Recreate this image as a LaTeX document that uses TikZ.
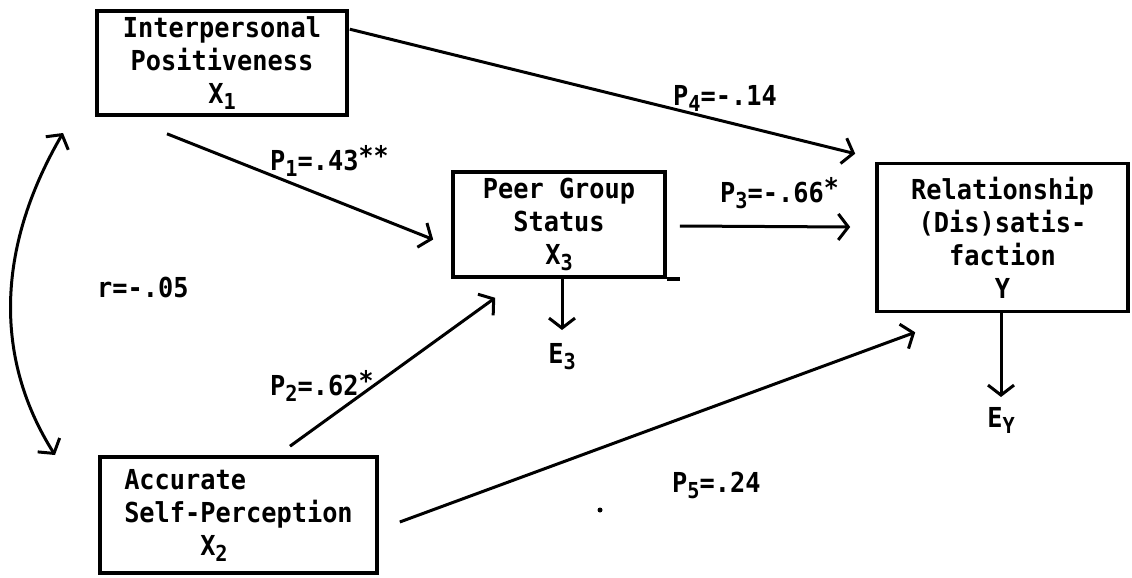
\documentclass[tikz,border=0pt]{standalone}
\usepackage{fontspec}
\setmonofont[FakeStretch=0.92]{DejaVu Sans Mono}
\usetikzlibrary{arrows.meta,calc}
% lowered index and raised significance stars in the running font
\newcommand{\lowsub}[1]{\raisebox{-6pt}{\fontsize{22}{22}\selectfont #1}}
\newcommand{\hisup}[1]{\raisebox{5pt}{\fontsize{27}{27}\selectfont #1}}

\begin{document}
\begin{tikzpicture}[x=1pt,y=-1pt,
  openbarb/.tip={Straight Barb[length=10pt,width=26pt]},
  every node/.style={font=\ttfamily\bfseries\fontsize{27.5}{33}\selectfont},
  var/.style={draw, line width=3.6pt, inner sep=0pt, align=center},
  lbl/.style={inner sep=0pt, anchor=base west},
  link/.style={line width=3pt, -{openbarb}},
]
\useasboundingbox (0,0) rectangle (1132,578);

% variables
\node[var, minimum width=250pt, minimum height=104pt] (x1) at (222,63)
  {Interpersonal\\Positiveness\\X\lowsub{1}};
\node[var, minimum width=212pt, minimum height=105pt] (x3) at (559,224.5)
  {Peer Group\\Status\\X\lowsub{3}};
\node[var, minimum width=251pt, minimum height=148pt] (y) at (1002.5,237.5)
  {Relationship\\(Dis)satis-\\faction\\Y};
\node[var, align=left, minimum width=277pt, minimum height=116pt] (x2) at (238.5,515)
  {Accurate\\Self-Perception\\\hspace*{76pt}X\lowsub{2}};
\draw[line width=3.6pt] (x3.south east) -- ++(13,0);

% path coefficients
\node[lbl] (p1) at (270,170) {P\lowsub{1}=.43\hisup{**}};
\node[lbl] (p2) at (270,395) {P\lowsub{2}=.62\hisup{*}};
\node[lbl] (p3) at (720,202) {P\lowsub{3}=-.66\hisup{*}};
\node[lbl] (p4) at (673,105) {P\lowsub{4}=-.14};
\node[lbl] (p5) at (672,492) {P\lowsub{5}=.24};
\node[lbl] (r) at (97,297) {r=-.05};

% residuals
\node[inner sep=0pt, anchor=base] (e3) at (562,363) {E\lowsub{3}};
\node[inner sep=0pt, anchor=base] (ey) at (1001,427) {E\lowsub{Y}};

% paths
\draw[link] ($(x1.south)+(-55,17)$) -- ($(x3.west)+(-18,15)$);
\draw[link] ($(x2.north)+(51.5,-9)$) -- ($(x3.south west)+(44,19)$);
\draw[link] ($(x1.north east)+(1,20)$) -- ($(y.north west)+(-20,-8)$);
\draw[link] ($(x3.east)+(13,1.5)$) -- ($(y.west)+(-25,-10.5)$);
\draw[link] ($(x2.east)+(21,7)$) -- ($(y.south west)+(40,19)$);
\draw[link] (x3.south -| e3) -- ($(e3.base)+(0,-33)$);
\draw[link] (y.south -| ey) -- ($(ey.base)+(0,-30)$);

% correlation between the exogenous variables
\coordinate (ctop) at (63,133);
\coordinate (cbot) at (55,455);
\draw[line width=3pt, {openbarb}-{openbarb}] (ctop) .. controls (-5,250) and (-5,360) .. (cbot);

\fill (600,510) circle (2.5pt);
\end{tikzpicture}
\end{document}
